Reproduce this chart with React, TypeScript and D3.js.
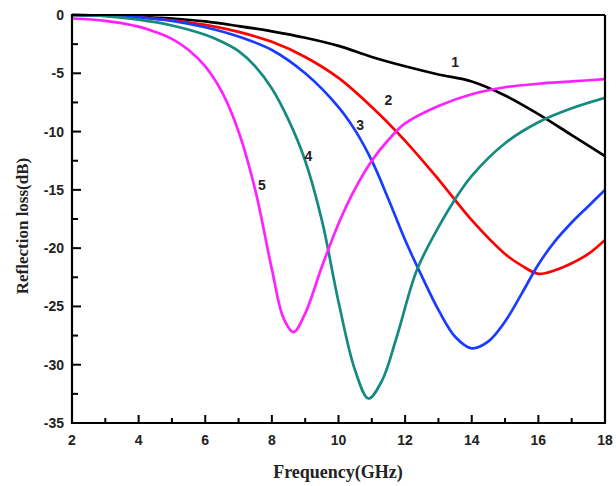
import React from "react";
import * as d3 from "d3";

// Frequency (GHz) / reflection loss (dB) readings for each sample
const freq1 = [2, 3, 4, 5, 6, 7, 8, 9, 10, 11, 12, 13, 14, 15, 16, 17, 18];
const rl1 = [0, -0.05, -0.15, -0.3, -0.55, -0.95, -1.4, -1.95, -2.65, -3.6, -4.4, -5.1, -5.7, -6.9, -8.5, -10.3, -12.1];

const freq2 = [2, 3, 4, 5, 6, 7, 8, 9, 10, 11, 12, 13, 14, 15, 15.5, 16, 16.5, 17, 17.5, 18];
const rl2 = [0, -0.05, -0.2, -0.45, -0.85, -1.45, -2.3, -3.6, -5.4, -7.9, -10.8, -14.1, -17.6, -20.5, -21.5, -22.2, -21.9, -21.3, -20.5, -19.3];

const freq3 = [2, 3, 4, 5, 6, 7, 8, 9, 10, 10.5, 11, 11.5, 12, 12.5, 13, 13.5, 14, 14.5, 15, 15.5, 16, 16.5, 17, 17.5, 18];
const rl3 = [0, -0.05, -0.2, -0.5, -1.05, -1.85, -3.0, -5.0, -7.9, -9.9, -12.5, -15.8, -19.3, -22.4, -25.3, -27.6, -28.6, -28.0, -26.3, -23.9, -21.4, -19.4, -17.8, -16.4, -15.0];

const freq4 = [2, 3, 4, 5, 6, 6.5, 7, 7.5, 8, 8.5, 9, 9.5, 10, 10.5, 10.9, 11.3, 11.75, 12.35, 13, 13.5, 14, 15, 16, 17, 18];
const rl4 = [0, -0.1, -0.4, -0.9, -1.7, -2.3, -3.1, -4.4, -6.3, -9.0, -12.5, -17.6, -24.6, -30.5, -32.9, -31.4, -27.6, -21.9, -18.2, -15.8, -13.8, -11.0, -9.2, -8.0, -7.1];

const freq5 = [2, 3, 4, 4.5, 5, 5.5, 6, 6.5, 7, 7.5, 8, 8.35, 8.65, 9, 9.5, 10, 10.5, 11, 11.5, 12, 13, 14, 15, 16, 17, 18];
const rl5 = [-0.3, -0.5, -1.0, -1.45, -2.05, -3.0, -4.4, -6.6, -10.0, -15.0, -21.8, -26.0, -27.2, -25.6, -21.6, -17.9, -14.9, -12.5, -10.7, -9.3, -7.8, -6.8, -6.2, -5.9, -5.7, -5.5];

const seriesNames = ["1", "2", "3", "4", "5"];
const seriesColors = ["#000000", "#ff0000", "#1a3cff", "#158a80", "#ff22ff"];
const seriesFreqs = [freq1, freq2, freq3, freq4, freq5];
const seriesValues = [rl1, rl2, rl3, rl4, rl5];
// label anchor positions (data coordinates)
const labelFreq = [13.5, 11.5, 10.65, 9.1, 7.7];
const labelRL = [-4.0, -7.3, -9.4, -12.1, -14.6];

const xMajorTicks = [2, 4, 6, 8, 10, 12, 14, 16, 18];
const xMinorTicks = [3, 5, 7, 9, 11, 13, 15, 17];
const yMajorTicks = [0, -5, -10, -15, -20, -25, -30, -35];
const yMinorTicks = [-2.5, -7.5, -12.5, -17.5, -22.5, -27.5, -32.5];

const xTitle = "Frequency(GHz)";
const yTitle = "Reflection loss(dB)";

export default function App() {
  const W = 616;
  const H = 486;
  const left = 72;
  const right = 605;
  const top = 15;
  const bottom = 423;

  const x = d3.scaleLinear().domain([2, 18]).range([left, right]);
  const y = d3.scaleLinear().domain([-35, 0]).range([bottom, top]);

  const line = d3
    .line<[number, number]>()
    .x((d) => x(d[0]))
    .y((d) => y(d[1]))
    .curve(d3.curveCatmullRom.alpha(0.5));

  const tickFont = "Arial, 'Liberation Sans', sans-serif";
  const titleFont = "'Times New Roman', 'Liberation Serif', serif";

  return (
    <svg
      width={W}
      height={H}
      style={{ position: "absolute", left: 0, top: 0, background: "#fff" }}
    >
      <rect x={0} y={0} width={W} height={H} fill="#fff" />
      <defs>
        <clipPath id="plotclip">
          <rect x={left} y={top - 2} width={right - left} height={bottom - top + 2} />
        </clipPath>
      </defs>
      <g clipPath="url(#plotclip)">
        {seriesValues.map((vals, i) => {
          const pts: [number, number][] = seriesFreqs[i].map((f, j) => [f, vals[j]]);
          return (
            <path
              key={i}
              d={line(pts) || ""}
              fill="none"
              stroke={seriesColors[i]}
              strokeWidth={2.7}
              strokeLinejoin="round"
            />
          );
        })}
      </g>
      {seriesNames.map((n, i) => (
        <text
          key={n}
          x={x(labelFreq[i])}
          y={y(labelRL[i])}
          fontFamily={tickFont}
          fontWeight="bold"
          fontSize={14}
          fill="#222"
          textAnchor="middle"
          dominantBaseline="central"
        >
          {n}
        </text>
      ))}
      {/* frame */}
      <line x1={left} x2={right} y1={top} y2={top} stroke="#000" strokeWidth={2} />
      <line x1={right} x2={right} y1={top} y2={bottom} stroke="#000" strokeWidth={2.2} />
      <line x1={left} x2={left} y1={top - 1} y2={bottom + 1} stroke="#000" strokeWidth={2.2} />
      <line x1={left - 1} x2={right + 1} y1={bottom} y2={bottom} stroke="#000" strokeWidth={2.2} />
      {/* x ticks */}
      {xMajorTicks.map((t) => (
        <g key={"xm" + t}>
          <line x1={x(t)} x2={x(t)} y1={bottom} y2={bottom - 8} stroke="#000" strokeWidth={2} />
          <text
            x={x(t)}
            y={445}
            fontFamily={tickFont}
            fontWeight="bold"
            fontSize={14}
            fill="#222"
            textAnchor="middle"
          >
            {t}
          </text>
        </g>
      ))}
      {xMinorTicks.map((t) => (
        <line key={"xn" + t} x1={x(t)} x2={x(t)} y1={bottom} y2={bottom - 5} stroke="#000" strokeWidth={2} />
      ))}
      {/* y ticks */}
      {yMajorTicks.map((t) => (
        <g key={"ym" + t}>
          <line x1={left} x2={left + 9} y1={y(t)} y2={y(t)} stroke="#000" strokeWidth={2} />
          <text
            x={64}
            y={y(t)}
            fontFamily={tickFont}
            fontWeight="bold"
            fontSize={14}
            fill="#222"
            textAnchor="end"
            dominantBaseline="central"
          >
            {t}
          </text>
        </g>
      ))}
      {yMinorTicks.map((t) => (
        <line key={"yn" + t} x1={left} x2={left + 6} y1={y(t)} y2={y(t)} stroke="#000" strokeWidth={2} />
      ))}
      {/* titles */}
      <text
        x={338}
        y={478}
        fontFamily={titleFont}
        fontWeight="bold"
        fontSize={18}
        fill="#222"
        textAnchor="middle"
      >
        {xTitle}
      </text>
      <text
        transform={`translate(28, 226) rotate(-90)`}
        fontFamily={titleFont}
        fontWeight="bold"
        fontSize={17}
        fill="#222"
        textAnchor="middle"
      >
        {yTitle}
      </text>
    </svg>
  );
}
